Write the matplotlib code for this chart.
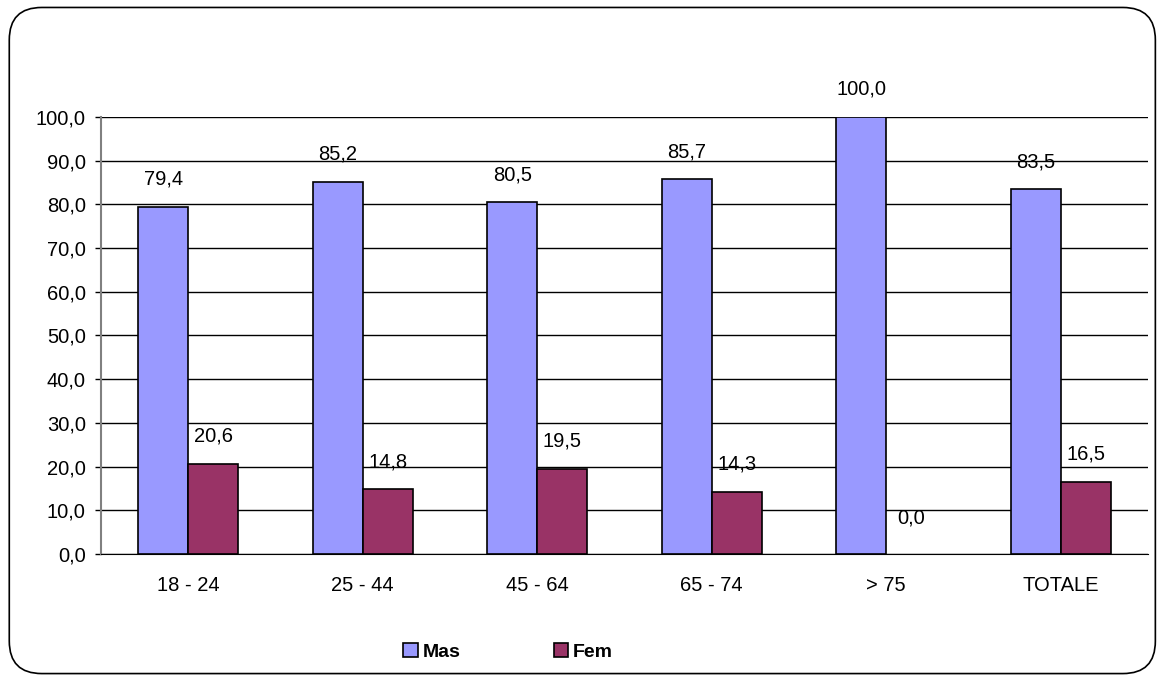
import matplotlib
matplotlib.use('Agg')
import matplotlib.pyplot as plt
from matplotlib.patches import FancyBboxPatch
import numpy as np

plt.rcParams['font.family'] = ['Liberation Sans', 'DejaVu Sans']

# data
categories = ['18 - 24', '25 - 44', '45 - 64', '65 - 74', '> 75', 'TOTALE']
mas = [79.4, 85.2, 80.5, 85.7, 100.0, 83.5]
fem = [20.6, 14.8, 19.5, 14.3, 0.0, 16.5]
yticks = [0, 10, 20, 30, 40, 50, 60, 70, 80, 90, 100]

col_mas = '#9999FF'
col_fem = '#993366'

fig = plt.figure(figsize=(11.6, 6.79), dpi=100)

# rounded outer frame
frame = FancyBboxPatch((0.008, 0.008), 0.988, 0.981,
                       boxstyle='round,pad=0,rounding_size=0.028',
                       transform=fig.transFigure, fc='none', ec='black',
                       lw=1.2, mutation_aspect=1160 / 679, zorder=-1)
fig.patches.append(frame)

ax = fig.add_axes([0.0871, 0.1841, 0.9026, 0.6436])
ax.set_facecolor('none')

x = np.arange(len(categories))
w = 0.287
b1 = ax.bar(x - w / 2, mas, w, color=col_mas, edgecolor='black', lw=1.2, zorder=3)
b2 = ax.bar(x + w / 2, fem, w, color=col_fem, edgecolor='black', lw=1.2, zorder=3)
for r, v in zip(b2, fem):
    if v == 0:
        r.set_linewidth(0)

for xi, v in zip(x, mas):
    ax.annotate(f'{v:.1f}'.replace('.', ','), (xi - w / 2, v), xytext=(0, 13),
                textcoords='offset points', ha='center', va='bottom', fontsize=14.5)
for xi, v in zip(x, fem):
    dy = 13 if v > 0 else 19
    ax.annotate(f'{v:.1f}'.replace('.', ','), (xi + w / 2, v), xytext=(0, dy),
                textcoords='offset points', ha='center', va='bottom', fontsize=14.5)

ax.set_xlim(-0.5, len(categories) - 0.5)
ax.set_ylim(0, 100)
ax.set_yticks(yticks)
ax.set_yticklabels([f'{t:.1f}'.replace('.', ',') for t in yticks], fontsize=14.5)
ax.set_xticks(x)
ax.set_xticklabels(categories, fontsize=14.5)
ax.tick_params(axis='x', length=0, pad=16)
ax.tick_params(axis='y', length=4, width=1, pad=7)

ax.yaxis.grid(True, color='black', lw=1)
ax.set_axisbelow(True)
for s in ['top', 'right']:
    ax.spines[s].set_visible(False)
ax.spines['left'].set_color('#808080')
ax.spines['left'].set_linewidth(1.5)
ax.spines['bottom'].set_color('black')

leg = fig.legend([b1, b2], ['Mas', 'Fem'], loc='center', bbox_to_anchor=(0.438, 0.04),
                 ncol=2, frameon=False, prop={'weight': 'bold', 'size': 14},
                 handlelength=0.75, handleheight=0.75, handletextpad=0.25, columnspacing=4.8)

fig.savefig('out.png', dpi=100)
